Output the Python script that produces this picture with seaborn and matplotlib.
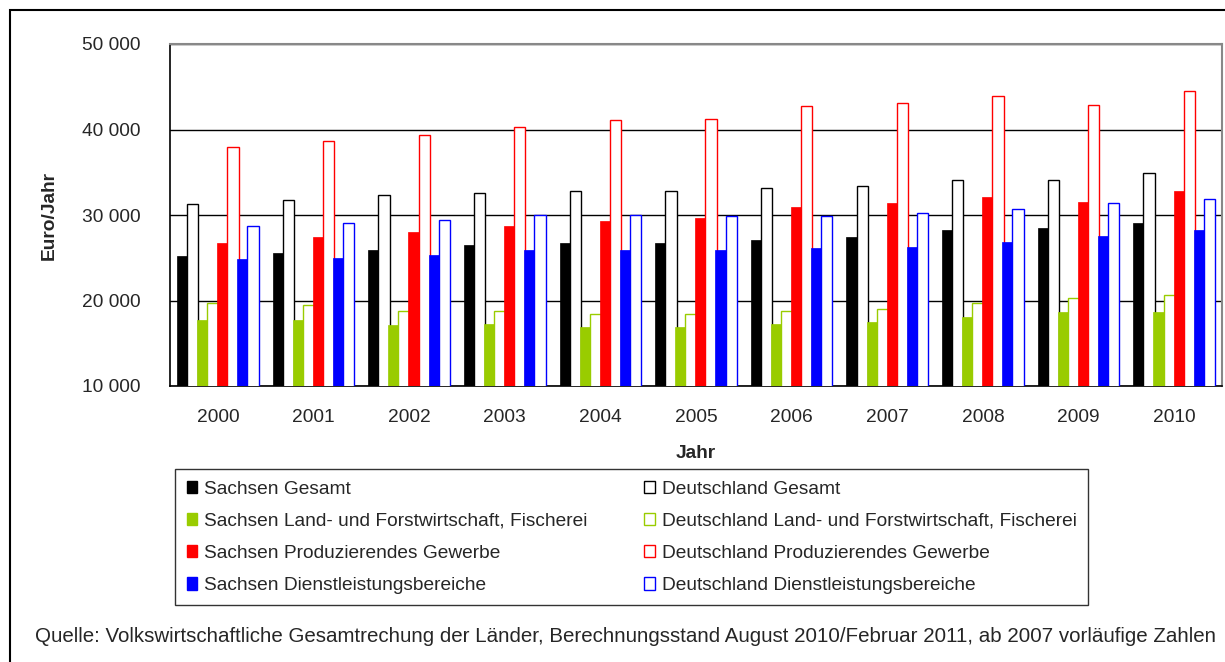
import numpy as np
import pandas as pd
import matplotlib
matplotlib.use("Agg")
import matplotlib.pyplot as plt
import seaborn as sns
from matplotlib.patches import Patch, Rectangle
from matplotlib.ticker import FuncFormatter

# Werte in Euro/Jahr
jahre = ["2000", "2001", "2002", "2003", "2004", "2005", "2006", "2007", "2008", "2009", "2010"]

sn_gesamt = [25200, 25500, 25900, 26500, 26700, 26700, 27100, 27400, 28200, 28500, 29100]
de_gesamt = [31300, 31700, 32300, 32600, 32800, 32800, 33200, 33400, 34150, 34150, 34900]
sn_land = [17700, 17700, 17100, 17300, 16900, 16900, 17300, 17500, 18100, 18600, 18600]
de_land = [19700, 19500, 18800, 18800, 18450, 18450, 18800, 19000, 19700, 20300, 20600]
sn_prod = [26700, 27400, 28000, 28700, 29300, 29700, 30950, 31400, 32100, 31550, 32850]
de_prod = [37900, 38600, 39400, 40300, 41100, 41250, 42750, 43150, 43900, 42900, 44450]
sn_dienst = [24800, 25000, 25350, 25900, 25900, 25900, 26100, 26300, 26850, 27600, 28200]
de_dienst = [28700, 29100, 29450, 30000, 30000, 29850, 29850, 30200, 30750, 31350, 31900]

serien = [
    "Sachsen Gesamt", "Deutschland Gesamt",
    "Sachsen Land- und Forstwirtschaft, Fischerei", "Deutschland Land- und Forstwirtschaft, Fischerei",
    "Sachsen Produzierendes Gewerbe", "Deutschland Produzierendes Gewerbe",
    "Sachsen Dienstleistungsbereiche", "Deutschland Dienstleistungsbereiche",
]
werte = [sn_gesamt, de_gesamt, sn_land, de_land, sn_prod, de_prod, sn_dienst, de_dienst]
farben = ["#000000", "#000000", "#99CC00", "#99CC00", "#FF0000", "#FF0000", "#0000FF", "#0000FF"]
gefuellt = [True, False, True, False, True, False, True, False]

rows = []
for name, vals in zip(serien, werte):
    for j, v in zip(jahre, vals):
        rows.append({"Jahr": j, "Wert": v, "Serie": name})
df = pd.DataFrame(rows)

sns.set_style("white")
plt.rcParams["font.family"] = ["Liberation Sans", "DejaVu Sans"]
fs = 13.8

fig = plt.figure(figsize=(12.25, 6.62), dpi=100)
ax = fig.add_axes([170 / 1225, 1 - 386 / 662, (1222 - 170) / 1225, (386 - 44) / 662])

sns.barplot(data=df, x="Jahr", y="Wert", hue="Serie", hue_order=serien,
            width=0.84, ax=ax, legend=False, errorbar=None, zorder=3)

# Balken einfaerben und leicht ueberlappen lassen
for cont, col, fill in zip(ax.containers, farben, gefuellt):
    for p in cont:
        c = p.get_x() + p.get_width() / 2
        p.set_width(0.118)
        p.set_x(c - 0.059)
        p.set_facecolor(col if fill else "white")
        p.set_edgecolor(col)
        p.set_linewidth(1.0 if not fill else 0.5)

ax.set_ylim(10000, 50000)
ax.set_xlim(-0.5, len(jahre) - 0.5)
ax.set_yticks([10000, 20000, 30000, 40000, 50000])
ax.yaxis.set_major_formatter(FuncFormatter(lambda v, p: f"{int(v):,}".replace(",", " ")))
ax.grid(axis="y", color="black", lw=1, zorder=1)
ax.set_axisbelow(True)

ax.set_xticks(np.arange(-0.5, len(jahre)), minor=True)
ax.tick_params(axis="x", which="major", length=0, labelsize=fs, pad=16.5)
ax.tick_params(axis="x", which="minor", length=6, width=1, color="black", direction="out")
ax.tick_params(axis="y", length=6, width=1, color="black", direction="out", labelsize=fs, pad=15)

for s in ["left", "bottom"]:
    ax.spines[s].set_color("black")
    ax.spines[s].set_linewidth(1.2)
for s in ["top", "right"]:
    ax.spines[s].set_color("#888888")
    ax.spines[s].set_linewidth(1.5)

ax.set_xlabel("Jahr", fontsize=fs, fontweight="bold", labelpad=14)
ax.set_ylabel("Euro/Jahr", fontsize=fs, fontweight="bold", labelpad=17.5)

handles = [Patch(facecolor=c if f else "white", edgecolor=c, lw=1) for c, f in zip(farben, gefuellt)]
# Spaltenweise: erst Sachsen, dann Deutschland
order = [0, 2, 4, 6, 1, 3, 5, 7]
leg = fig.legend([handles[i] for i in order], [serien[i] for i in order], ncol=2,
                 loc="upper left", mode="expand",
                 bbox_to_anchor=(175 / 1225, 1 - 600 / 662, (1088 - 175) / 1225, (600 - 469) / 662),
                 fontsize=fs, frameon=True, fancybox=False, edgecolor="black",
                 handlelength=0.55, handleheight=0.65, handletextpad=0.35,
                 labelspacing=0.78, borderpad=0.6, borderaxespad=0)
leg.get_frame().set_linewidth(1.0)

fig.text(35 / 1225, 1 - 636 / 662,
         "Quelle: Volkswirtschaftliche Gesamtrechung der Länder, Berechnungsstand August 2010/Februar 2011, ab 2007 vorläufige Zahlen",
         fontsize=14.8, va="center", ha="left")

# Rahmen um die gesamte Grafik
fig.add_artist(Rectangle((9.5 / 1225, -0.2), 2, 1.2 - 9.5 / 662, transform=fig.transFigure,
                         fill=False, edgecolor="black", lw=1.5))

fig.savefig("out.png", dpi=100)
